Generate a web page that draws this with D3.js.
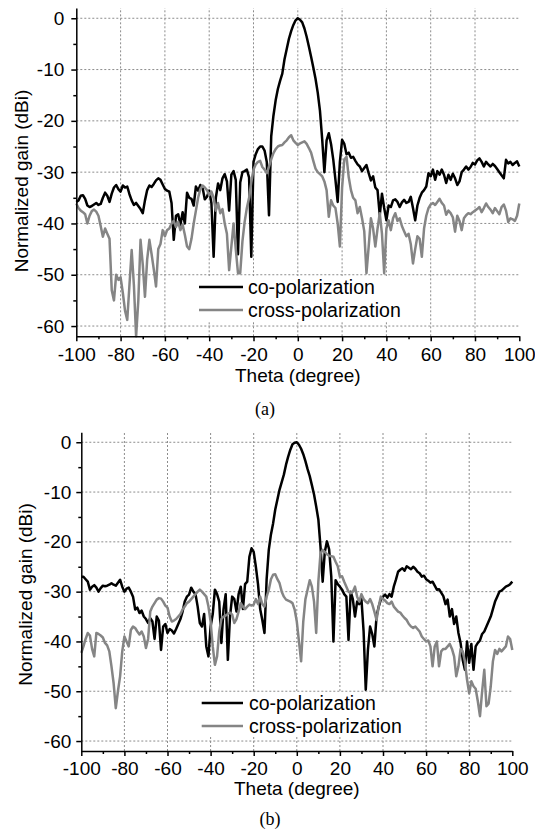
<!DOCTYPE html>
<html>
<head>
<meta charset="utf-8">
<script src="https://cdn.jsdelivr.net/npm/d3@7"></script>
<style>
  body { margin: 0; background: #fff; }
  svg text { font-family: "Liberation Sans", Arial, Helvetica, sans-serif; fill: #000; }
</style>
</head>
<body>
<svg id="chart" width="535" height="831"></svg>
<script>
// angle grid, one sample per degree
var theta = d3.range(-100, 101);

var xTicks = [-100, -80, -60, -40, -20, 0, 20, 40, 60, 80, 100];
var xMinor = [-90, -70, -50, -30, -10, 10, 30, 50, 70, 90];
var yTicks = [0, -10, -20, -30, -40, -50, -60];
var yMinor = [-5, -15, -25, -35, -45, -55];
var seriesNames = ["co-polarization", "cross-polarization"];
var panelLabels = ["(a)", "(b)"];

// panel (a)
var coPolA = [
  -35.8,-35.5,-34.6,-34.5,-35.2,-36.5,-36.8,-36.6,-36.3,-36.0,
  -36.4,-36.2,-35.0,-34.0,-34.6,-35.8,-34.2,-33.0,-32.5,-33.3,
  -33.8,-32.6,-33.0,-32.8,-34.3,-35.5,-36.4,-36.0,-36.6,-37.2,
  -38.0,-35.5,-33.5,-32.6,-32.9,-32.3,-31.6,-31.2,-31.5,-32.4,
  -33.3,-33.6,-33.8,-36.0,-43.2,-38.5,-38.2,-40.3,-37.8,-40.0,
  -34.0,-35.0,-35.2,-36.5,-32.8,-33.6,-32.5,-33.0,-35.3,-34.8,
  -33.6,-36.0,-46.5,-35.0,-32.2,-33.5,-31.2,-30.4,-31.8,-37.5,
  -30.5,-29.8,-31.5,-46.0,-32.0,-30.0,-29.8,-29.5,-31.0,-46.5,
  -28.0,-26.5,-25.5,-25.0,-25.0,-25.8,-28.0,-38.4,-23.0,-19.0,
  -16.0,-13.8,-12.2,-10.8,-8.0,-6.0,-4.0,-2.5,-1.3,-0.4,
  0,-0.3,-0.8,-2.0,-3.6,-5.5,-7.5,-9.6,-11.8,-14.5,
  -18.0,-23.5,-30.0,-23.8,-22.4,-24.5,-27.5,-31.5,-35.8,-28.0,
  -23.7,-24.5,-26.5,-26.2,-27.2,-27.0,-27.8,-28.5,-28.9,-29.8,
  -29.2,-28.6,-30.2,-31.6,-30.8,-33.0,-33.5,-38.4,-34.2,-37.0,
  -39.4,-36.5,-36.8,-35.5,-35.3,-35.8,-36.8,-35.9,-35.4,-36.0,
  -35.8,-34.8,-37.0,-39.4,-36.5,-35.0,-34.0,-33.5,-32.8,-30.2,
  -30.8,-29.5,-31.5,-29.8,-30.5,-29.5,-30.5,-32.1,-30.5,-31.5,
  -30.3,-31.2,-32.5,-31.8,-30.0,-29.5,-28.9,-29.5,-29.0,-28.2,
  -28.5,-27.7,-27.3,-28.0,-28.9,-28.0,-28.5,-28.9,-28.4,-28.8,
  -29.4,-30.0,-30.6,-31.2,-27.6,-28.3,-28.0,-28.6,-28.2,-27.9,
  -28.9
];
var crossPolA = [
  -36.1,-37.0,-37.5,-37.8,-38.2,-40.0,-38.5,-37.6,-37.3,-37.7,
  -38.5,-40.5,-42.6,-41.0,-42.0,-43.0,-53.0,-55.0,-50.0,-51.0,
  -50.5,-53.5,-57.0,-58.8,-52.0,-45.2,-52.0,-62.0,-55.0,-43.2,
  -48.0,-54.3,-47.0,-43.2,-46.0,-49.0,-52.3,-45.0,-44.0,-41.3,
  -42.5,-41.3,-41.0,-40.0,-39.5,-40.7,-39.7,-41.3,-40.2,-42.2,
  -44.5,-45.0,-43.0,-40.0,-37.5,-35.0,-33.3,-32.6,-33.0,-33.5,
  -34.5,-33.8,-35.0,-37.5,-36.0,-38.0,-37.2,-40.0,-42.0,-49.1,
  -44.5,-40.0,-45.0,-49.7,-49.7,-43.5,-39.7,-37.0,-35.0,-32.0,
  -29.5,-28.5,-28.0,-27.8,-29.0,-29.5,-30.2,-28.9,-27.5,-26.3,
  -25.5,-25.0,-24.8,-24.7,-24.2,-23.8,-23.2,-22.8,-23.8,-24.3,
  -24.7,-24.4,-24.2,-24.0,-24.5,-25.3,-26.2,-27.8,-29.3,-30.0,
  -30.4,-30.8,-31.8,-33.5,-38.7,-35.5,-36.5,-37.0,-40.0,-44.5,
  -33.0,-27.5,-27.0,-31.0,-33.5,-35.0,-35.5,-38.0,-36.8,-39.0,
  -41.5,-49.7,-44.5,-39.0,-41.0,-44.5,-41.0,-38.0,-42.0,-49.7,
  -41.0,-39.4,-41.3,-39.0,-38.0,-39.5,-39.0,-40.5,-41.5,-42.5,
  -42.0,-44.0,-47.8,-45.0,-42.5,-43.0,-46.5,-41.0,-38.5,-37.0,
  -36.3,-36.0,-36.4,-35.8,-35.2,-36.0,-36.5,-38.3,-37.5,-38.0,
  -38.8,-41.6,-38.5,-39.5,-41.3,-39.0,-38.4,-38.0,-38.2,-37.8,
  -37.5,-37.2,-36.8,-37.8,-37.0,-36.1,-36.8,-37.3,-38.0,-37.0,
  -37.6,-38.2,-36.8,-36.3,-37.5,-39.7,-39.0,-39.2,-39.5,-38.5,
  -36.1
];

// panel (b)
var coPolB = [
  -27.0,-27.0,-27.5,-28.0,-29.6,-29.0,-28.7,-29.2,-30.0,-29.3,
  -28.8,-28.9,-28.8,-28.6,-28.3,-28.6,-28.8,-28.2,-27.6,-29.0,
  -30.0,-29.4,-29.2,-30.0,-31.0,-33.6,-33.2,-34.3,-33.8,-35.0,
  -35.5,-36.3,-35.3,-36.0,-39.5,-35.0,-35.8,-41.7,-37.0,-36.5,
  -38.3,-37.5,-37.8,-38.4,-37.5,-36.5,-35.5,-34.0,-32.0,-31.0,
  -30.6,-29.2,-30.0,-30.5,-33.0,-36.3,-37.0,-34.5,-41.0,-43.0,
  -37.0,-34.5,-29.6,-30.5,-32.0,-40.3,-33.5,-30.5,-43.7,-35.0,
  -31.0,-31.5,-34.0,-30.5,-29.0,-33.5,-28.5,-28.0,-23.0,-21.3,
  -22.0,-25.0,-28.5,-33.5,-35.7,-38.3,-27.5,-21.6,-18.5,-16.3,
  -13.5,-11.5,-9.5,-8.0,-6.5,-4.5,-2.9,-1.5,-0.4,-0.1,
  0,-0.5,-1.3,-2.4,-3.8,-5.4,-6.8,-8.6,-10.5,-12.9,
  -15.5,-21.0,-28.0,-22.0,-19.9,-21.5,-27.0,-40.0,-27.7,-28.5,
  -29.0,-29.6,-30.5,-31.0,-39.7,-30.0,-31.5,-35.0,-32.0,-32.5,
  -31.5,-38.0,-49.7,-41.7,-37.0,-38.5,-41.0,-35.0,-33.0,-31.6,
  -31.0,-30.6,-31.2,-30.5,-31.0,-29.0,-27.6,-26.0,-25.6,-25.3,
  -25.8,-24.9,-25.2,-25.5,-25.0,-25.4,-26.0,-26.3,-27.0,-26.8,
  -27.5,-27.8,-28.2,-28.0,-28.8,-29.6,-29.5,-30.2,-30.9,-32.5,
  -31.6,-35.0,-33.5,-36.5,-35.0,-38.3,-40.3,-43.7,-45.7,-40.0,
  -44.3,-40.5,-45.7,-41.0,-40.3,-39.8,-38.5,-38.0,-37.0,-36.0,
  -35.0,-33.5,-32.0,-31.0,-30.0,-29.8,-29.4,-29.0,-28.8,-28.5,
  -28.0
];
var crossPolB = [
  -42.3,-41.0,-39.5,-38.3,-38.8,-41.5,-43.0,-38.3,-38.5,-38.8,
  -39.2,-40.3,-40.8,-42.0,-45.0,-48.4,-53.4,-50.0,-47.0,-42.0,
  -39.0,-40.0,-41.0,-37.7,-37.0,-37.3,-38.0,-38.6,-38.0,-39.0,
  -41.3,-39.5,-34.0,-33.0,-32.3,-31.6,-31.3,-31.4,-32.0,-32.8,
  -33.2,-35.0,-36.0,-35.8,-35.5,-35.0,-34.5,-33.6,-33.0,-32.3,
  -32.0,-31.5,-31.0,-30.5,-30.0,-29.6,-30.0,-30.5,-31.0,-33.0,
  -36.0,-41.0,-44.7,-43.0,-38.0,-35.5,-35.0,-34.8,-34.5,-34.2,
  -34.6,-36.3,-35.5,-34.0,-32.3,-33.0,-33.5,-33.0,-32.6,-32.8,
  -32.6,-31.5,-32.5,-31.0,-32.5,-33.0,-31.0,-29.6,-27.5,-26.6,
  -26.5,-27.5,-28.3,-30.0,-31.0,-31.6,-31.8,-32.0,-32.3,-33.6,
  -36.0,-40.0,-44.0,-36.0,-31.5,-29.6,-27.7,-29.0,-32.0,-38.3,
  -28.0,-22.3,-21.6,-22.0,-22.5,-22.8,-22.9,-23.0,-24.0,-24.9,
  -27.0,-26.9,-28.0,-29.0,-30.0,-30.3,-30.0,-29.0,-31.0,-32.0,
  -30.5,-31.5,-32.0,-32.3,-31.5,-32.5,-34.0,-35.7,-33.0,-31.0,
  -31.5,-31.8,-32.3,-32.5,-32.0,-33.0,-33.5,-34.0,-34.2,-34.8,
  -35.3,-35.7,-36.5,-37.0,-37.3,-37.0,-37.5,-38.0,-39.0,-39.5,
  -40.0,-39.8,-41.0,-45.0,-41.0,-40.0,-45.0,-42.0,-41.5,-41.5,
  -41.0,-40.5,-41.5,-43.0,-47.0,-45.0,-41.5,-42.0,-44.0,-47.7,
  -50.4,-48.0,-49.0,-49.5,-52.0,-55.0,-50.0,-45.7,-53.0,-52.5,
  -49.0,-44.0,-41.7,-42.5,-41.5,-42.0,-41.5,-41.0,-39.0,-39.5,
  -41.7
];

var svg = d3.select("#chart");
var colors = ["#000000", "#858585"];

function drawPanel(p) {
  var x = d3.scaleLinear().domain([-100, 100]).range([p.left, p.right]);
  var y = d3.scaleLinear().domain([-62, 2]).range([p.bottom, p.top]);
  var g = svg.append("g");

  // dotted grid
  g.selectAll(".hgrid").data(yTicks).enter().append("line")
    .attr("x1", x(-100)).attr("x2", x(100))
    .attr("y1", function (d) { return y(d); }).attr("y2", function (d) { return y(d); })
    .attr("stroke", "#8c8c8c").attr("stroke-width", 1).attr("stroke-dasharray", "2,2");
  g.selectAll(".vgrid").data(xTicks.slice(1, -1)).enter().append("line")
    .attr("x1", function (d) { return x(d); }).attr("x2", function (d) { return x(d); })
    .attr("y1", y(-62)).attr("y2", y(2))
    .attr("stroke", "#8c8c8c").attr("stroke-width", 1).attr("stroke-dasharray", "2,2");

  // legend background hides the grid
  g.append("rect")
    .attr("x", p.legend.x0).attr("y", p.legend.y0)
    .attr("width", p.legend.x1 - p.legend.x0).attr("height", p.legend.y1 - p.legend.y0)
    .attr("fill", "#fff");

  var line = d3.line()
    .x(function (d, i) { return x(theta[i]); })
    .y(function (d) { return y(d); });

  p.series.forEach(function (s, k) {
    g.append("path")
      .datum(s)
      .attr("d", line)
      .attr("fill", "none")
      .attr("stroke", colors[k])
      .attr("stroke-width", 2.5)
      .attr("stroke-linejoin", "round");
  });

  // axes
  g.append("g").attr("transform", "translate(0," + p.bottom + ")")
    .call(d3.axisBottom(x).tickValues(xTicks).tickSize(5).tickSizeOuter(0).tickPadding(p.xPad)
      .tickFormat(function (d) { return String(d); }));
  g.append("g").attr("transform", "translate(0," + p.bottom + ")")
    .call(d3.axisBottom(x).tickValues(xMinor).tickSize(3).tickSizeOuter(0).tickFormat(""))
    .select(".domain").remove();
  g.append("g").attr("transform", "translate(" + p.left + ",0)")
    .call(d3.axisLeft(y).tickValues(yTicks).tickSize(5).tickSizeOuter(0).tickPadding(p.yPad)
      .tickFormat(function (d) { return String(d); }));
  g.append("g").attr("transform", "translate(" + p.left + ",0)")
    .call(d3.axisLeft(y).tickValues(yMinor).tickSize(3).tickSizeOuter(0).tickFormat(""))
    .select(".domain").remove();

  g.selectAll(".domain, .tick line").attr("stroke", "#000").attr("stroke-width", 1.5);
  g.selectAll(".tick text")
    .style("font-family", "'Liberation Sans', Arial, sans-serif")
    .attr("font-size", 19).attr("fill", "#000");

  // axis titles
  g.append("text")
    .attr("x", (p.left + p.right) / 2)
    .attr("y", p.xTitleY)
    .attr("text-anchor", "middle")
    .attr("font-size", 19)
    .text("Theta (degree)");
  g.append("text")
    .attr("transform", "translate(" + p.yTitleX + "," + p.yTitleMid + ") rotate(-90)")
    .attr("text-anchor", "middle")
    .attr("font-size", 19)
    .text("Normalized gain (dBi)");

  // legend
  seriesNames.forEach(function (name, k) {
    var ly = p.legend.rows[k];
    g.append("line")
      .attr("x1", p.legend.sx0).attr("x2", p.legend.sx1)
      .attr("y1", ly).attr("y2", ly)
      .attr("stroke", colors[k]).attr("stroke-width", 2.5);
    g.append("text")
      .attr("x", p.legend.tx)
      .attr("y", ly + 7)
      .attr("font-size", 19.5)
      .text(name);
  });

  // panel label
  g.append("text")
    .attr("x", p.labelX)
    .attr("y", p.labelY)
    .attr("text-anchor", "middle")
    .style("font-family", "'Liberation Serif', 'Times New Roman', serif")
    .attr("font-size", 18)
    .text(p.label);
}

drawPanel({
  left: 76.3, right: 519.3, top: 8, bottom: 336.3,
  series: [coPolA, crossPolA],
  xPad: 6, yPad: 7,
  xTitleY: 381.5, yTitleX: 28, yTitleMid: 181,
  legend: { x0: 192, x1: 410, y0: 276, y1: 322, rows: [287, 310], sx0: 199, sx1: 243, tx: 248 },
  label: panelLabels[0], labelX: 265, labelY: 415
});

drawPanel({
  left: 81.3, right: 512.3, top: 432.3, bottom: 751,
  series: [coPolB, crossPolB],
  xPad: 6, yPad: 5,
  xTitleY: 795, yTitleX: 32, yTitleMid: 594.5,
  legend: { x0: 193, x1: 407, y0: 692, y1: 737, rows: [703, 726], sx0: 201.7, sx1: 243, tx: 249 },
  label: panelLabels[1], labelX: 270, labelY: 825
});
</script>
</body>
</html>
